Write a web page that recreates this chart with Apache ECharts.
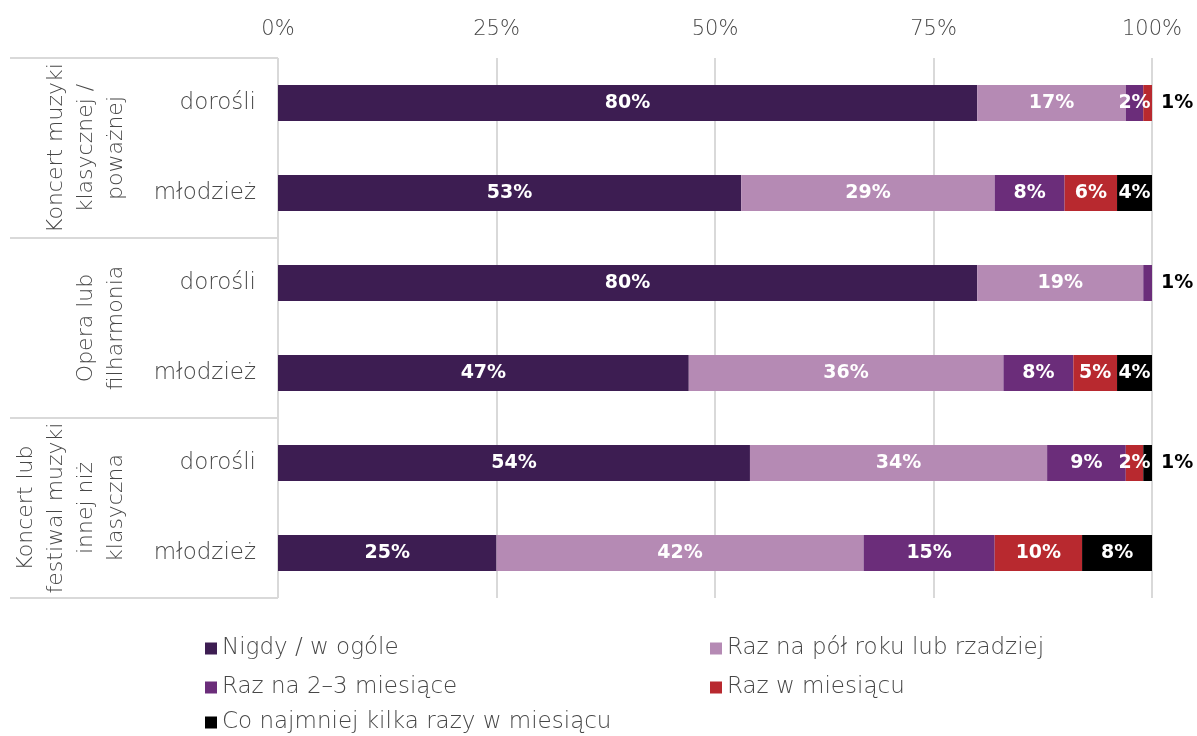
<!DOCTYPE html>
<html><head><meta charset="utf-8">
<script src="https://cdn.jsdelivr.net/npm/echarts@6/dist/echarts.min.js"></script>
<style>html,body{margin:0;padding:0;background:#fff}#c{width:1197px;height:736px}</style>
</head><body><div id="c"></div>
<script>
const rowLabels = ["dorośli","młodzież","dorośli","młodzież","dorośli","młodzież"];
const groupLabels = ["Koncert muzyki\nklasycznej /\npoważnej","Opera lub\nfilharmonia","Koncert lub\nfestiwal muzyki\ninnej niż\nklasyczna"];
const seriesNames = ["Nigdy / w ogóle","Raz na pół roku lub rzadziej","Raz na 2–3 miesiące","Raz w miesiącu","Co najmniej kilka razy w miesiącu"];
const colors = ["#3D1D52","#B58AB4","#6B2D7A","#B8292F","#000000"];
const nigdy     = [80,53,80,47,54,25];
const polRoku   = [17,29,19,36,34,42];
const miesiace  = [2,8,1,8,9,15];
const miesiac   = [1,6,0,5,2,10];
const kilka     = [0,4,0,4,1,8];
const xTicks = [0,25,50,75,100];

const font = "'DejaVu Sans', sans-serif";
const lightW = 200;
const textGray = '#474747';
const allData = [nigdy, polRoku, miesiace, miesiac, kilka];

const series = allData.map((arr, si) => ({
  name: seriesNames[si],
  type: 'bar',
  stack: 'total',
  barCategoryGap: '60%',
  itemStyle: {color: colors[si]},
  data: arr.map(v => {
    if (v === 0) return {value: v, label: {show: false}};
    if (v <= 1) return {value: v, label: {show: true, position: 'right', color: '#000', distance: 9}};
    return {value: v};
  }),
  label: {
    show: true, position: 'inside', color: '#fff', fontWeight: 'bold',
    fontSize: 19, fontFamily: font, formatter: '{c}%'
  }
}));

// legend layout: [series index, left, top]
const legendPos = [[0,205,637],[2,205,676],[4,205,711],[1,710,637],[3,710,676]];
const legends = legendPos.map(p => ({
  left: p[1], top: p[2], padding: 0, itemWidth: 12, itemHeight: 12,
  icon: 'rect', selectedMode: false,
  textStyle: {color: textGray, fontSize: 23, fontFamily: font, fontWeight: lightW, padding: [0,0,0,0]},
  data: [seriesNames[p[0]]]
}));

const chart = echarts.init(document.getElementById('c'));
chart.setOption({
  animation: false,
  backgroundColor: '#fff',
  color: colors,
  grid: {left: 278, right: 45, top: 58, bottom: 138, containLabel: false},
  xAxis: {
    type: 'value', position: 'top', min: 0, max: 100, interval: 25,
    axisLine: {show: false}, axisTick: {show: false},
    axisLabel: {formatter: v => xTicks.includes(v) ? v + '%' : '', color: textGray, fontSize: 21, fontFamily: font, fontWeight: lightW, margin: 18},
    splitLine: {show: true, lineStyle: {color: '#d9d9d9', width: 2}}
  },
  yAxis: [
    {
      type: 'category', data: rowLabels, inverse: true, position: 'left',
      axisLine: {show: false}, axisTick: {show: false},
      axisLabel: {interval: 0, color: textGray, fontSize: 23, fontFamily: font, fontWeight: lightW, margin: 22}
    },
    {
      type: 'category', data: groupLabels, inverse: true, position: 'left',
      axisLine: {show: false},
      axisTick: {show: true, interval: 0, length: 268, lineStyle: {color: '#d9d9d9', width: 2}},
      axisLabel: {interval: 0, color: textGray, fontSize: 22, fontFamily: font, fontWeight: lightW, rotate: 90, margin: 147, lineHeight: 30}
    }
  ],
  legend: legends,
  series: series
});
</script>
</body></html>
